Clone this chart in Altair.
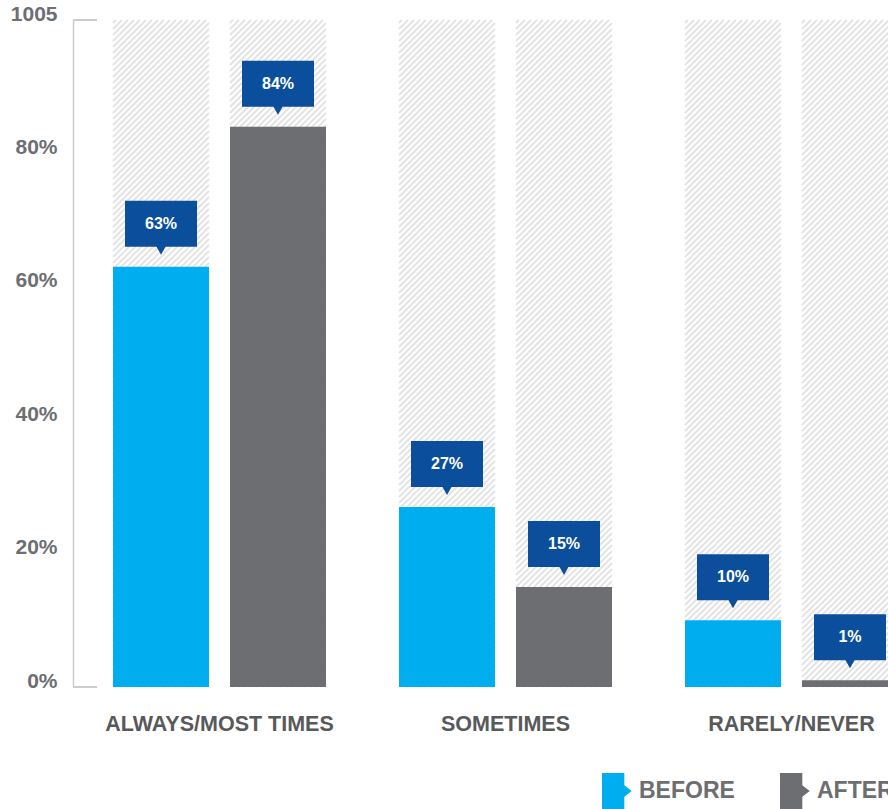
import altair as alt
import pandas as pd

# ---------------- data ----------------
categories = ["ALWAYS/MOST TIMES", "SOMETIMES", "RARELY/NEVER"]
series = ["BEFORE", "AFTER"]
before_values = [63, 27, 10]
after_values = [84, 15, 1]
y_tick_values = [0, 20, 40, 60, 80, 100]
y_tick_labels = ["0%", "20%", "40%", "60%", "80%", "1005"]

rows = []
for i, c in enumerate(categories):
    for s, vals in zip(series, [before_values, after_values]):
        rows.append({"category": c, "series": s, "value": vals[i], "label": f"{vals[i]}%"})
df = pd.DataFrame(rows)
bracket_df = pd.DataFrame({"v": [y_tick_values[0], y_tick_values[-1]]})

# ---------------- styles ----------------
FONT = "Liberation Sans"
BLUE = "#00AEEF"
GRAY = "#6D6E71"
NAVY = "#0B4F9C"
AXIS_GRAY = "#cccccc"

PLOT_H = 667
BAR_W = 96


def hatch_path(half_h, step):
    """Diagonal '/' stripe texture inside the box [-1,1] x [-half_h, half_h]."""
    parts = []
    c = -1 - half_h + step / 2
    while c < 1 + half_h:
        x1 = max(-1.0, c - half_h)
        x2 = min(1.0, c + half_h)
        parts.append(f"M{x1:.3f},{c - x1:.3f}L{x2:.3f},{c - x2:.3f}")
        c += step
    return "".join(parts)


HATCH = hatch_path(PLOT_H / BAR_W, 6 / (BAR_W / 2))
ARROW = "M-1,-1L0.24,-1L0.24,-0.32L0.65,0L0.24,0.32L0.24,1L-1,1Z"
# callout box (72 x 46 px at size 72^2) with a small pointer below
CALLOUT = "M-1,-0.639L1,-0.639L1,0.639L0.125,0.639L0,0.861L-0.125,0.639L-1,0.639Z"

label_expr = " : ".join(
    f"datum.value == {v} ? '{t}'" for v, t in zip(y_tick_values, y_tick_labels)
) + " : ''"

yscale = alt.Scale(domain=[0, 100], nice=False, zero=True)
yaxis = alt.Axis(
    title=None, values=y_tick_values, labelExpr=label_expr, ticks=False, grid=False,
    domainColor=AXIS_GRAY, domainWidth=1.5, labelFont=FONT, labelFontSize=21,
    labelFontWeight="bold", labelColor="#6D6E71", labelBaseline="alphabetic",
    labelPadding=16,
)

x_enc = alt.X(
    "category:N", sort=categories,
    scale=alt.Scale(range=[3.5, 861.5], paddingInner=0, paddingOuter=0),
    axis=alt.Axis(title=None, ticks=False, domain=False, labelAngle=0, labelFont=FONT,
                  labelFontSize=21.5, labelFontWeight="bold", labelColor="#58595B",
                  labelPadding=26, labelLimit=400),
)
xoff_enc = alt.XOffset("series:N", sort=series,
                       scale=alt.Scale(paddingInner=0.1795, paddingOuter=0.312))
y_enc = alt.Y("value:Q", scale=yscale, axis=yaxis)

base = alt.Chart(df)

hatch = base.mark_point(
    shape=HATCH, size=BAR_W * BAR_W, filled=False, color="#e4e4e4",
    strokeWidth=2, opacity=1,
).encode(x=x_enc, xOffset=xoff_enc, y=alt.YDatum(50, scale=yscale, axis=yaxis))

bars = base.mark_bar().encode(
    x=x_enc, xOffset=xoff_enc, y=y_enc,
    color=alt.Color(
        "series:N", sort=series,
        scale=alt.Scale(domain=series, range=[BLUE, GRAY]),
        legend=alt.Legend(
            orient="none", legendX=529, legendY=753, direction="horizontal",
            title=None, symbolType=ARROW, symbolSize=1296, symbolStrokeWidth=0,
            symbolOpacity=1, labelFont=FONT, labelFontSize=23, labelFontWeight="bold",
            labelColor="#6D6E71", labelOffset=1, columnPadding=45, labelLimit=300,
        ),
    ),
)

callout = base.mark_point(
    shape=CALLOUT, size=72 * 72, filled=True, color=NAVY, opacity=1,
    strokeWidth=0, yOffset=-43,
).encode(x=x_enc, xOffset=xoff_enc, y=y_enc)

labels = base.mark_text(
    color="white", font=FONT, fontWeight="bold", fontSize=16,
    yOffset=-43, baseline="middle", align="center",
).encode(x=x_enc, xOffset=xoff_enc, y=y_enc, text="label:N")

brackets = alt.Chart(bracket_df).mark_rule(color=AXIS_GRAY, strokeWidth=2).encode(
    y=alt.Y("v:Q", scale=yscale, axis=yaxis), x=alt.value(0), x2=alt.value(24),
)

chart = alt.layer(hatch, bars, callout, labels, brackets).properties(
    width=815, height=PLOT_H,
    autosize=alt.AutoSizeParams(type="none"),
    padding={"left": 73, "top": 20, "right": 0, "bottom": 122},
    background="white",
).configure_view(stroke=None)

chart.save("out.html", embed_options={"renderer": "svg", "actions": False})
